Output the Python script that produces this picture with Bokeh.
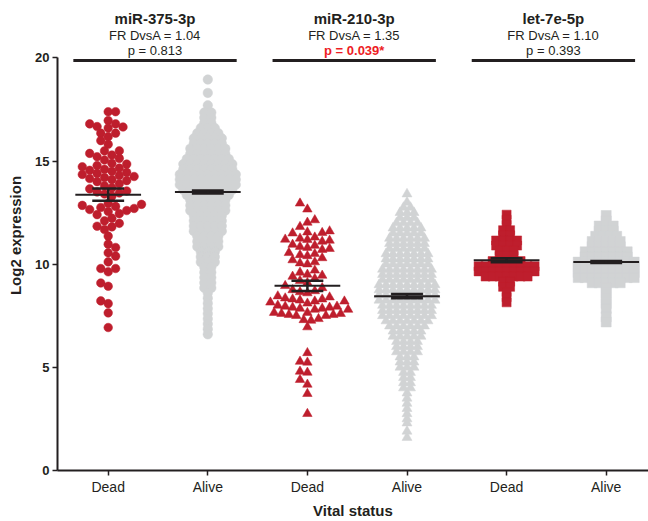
import numpy as np
from bokeh.plotting import figure
from bokeh.models import Range1d, FixedTicker
from bokeh.embed import file_html
from bokeh.resources import INLINE
from bokeh.core.properties import value

# ---------------- data ----------------
mirnas = ["miR-375-3p", "miR-210-3p", "let-7e-5p"]
fold_ratios = ["1.04", "1.35", "1.10"]
p_values = ["0.813", "0.039*", "0.393"]
status_labels = ["Dead", "Alive", "Dead", "Alive", "Dead", "Alive"]

dead_375 = [17.39, 17.39, 16.96, 16.8, 16.8, 16.67, 16.65, 16.6, 16.35, 16.35, 16.18, 15.99,
            15.81, 15.49, 15.49, 15.37, 15.29, 15.21, 15.13, 15.05, 14.89,
            14.85, 14.78, 14.72, 14.66, 14.6, 14.55, 14.5, 14.45, 14.4, 14.35, 14.3,
            14.25, 14.2, 14.15, 14.1, 14.05,
            14.0, 13.9, 13.8, 13.7, 13.65, 13.55, 13.5, 13.45, 13.4, 13.3,
            12.95, 12.9, 12.85, 12.8, 12.75, 12.7, 12.65, 12.6, 12.55, 12.45, 12.4,
            12.23, 12.1, 11.98, 11.84, 11.81, 11.68, 11.36, 10.97, 10.81, 10.55, 10.39, 10.11,
            9.79, 9.79, 9.63, 9.09, 8.93, 8.22, 8.09, 7.64, 6.93]

dead_210 = [12.95, 12.66, 12.14, 12.02, 11.81, 11.6, 11.55, 11.52, 11.5, 11.3, 11.25, 11.2,
            11.18, 11.15, 11.1, 10.95, 10.9, 10.85, 10.8, 10.75, 10.7, 10.55, 10.5, 10.45,
            10.4, 10.3, 10.2, 10.1, 10.05, 10.0,
            9.7, 9.6, 9.5, 9.45, 9.4, 9.3, 9.2, 9.1,
            8.95, 8.85, 8.75, 8.7, 8.65, 8.6,
            8.45, 8.4, 8.35, 8.3, 8.3, 8.25, 8.2, 8.2, 8.15, 8.1,
            8.0, 7.95, 7.95, 7.9, 7.9, 7.85, 7.85, 7.8, 7.8,
            7.65, 7.65, 7.6, 7.6, 7.55, 7.55, 7.5, 7.5,
            7.35, 7.3, 7.27, 6.95,
            5.7, 5.28, 5.24, 4.8, 4.75, 4.4, 4.17, 3.72, 2.75]

dead_let7e_levels = [12.4, 12.15, 11.9, 11.65, 11.4, 11.15, 10.9, 10.65, 10.4, 10.15,
                     9.9, 9.65, 9.4, 9.15, 8.9, 8.65, 8.4, 8.15]
dead_let7e_counts = [1, 1, 1, 2, 2, 4, 4, 3, 3, 5, 9, 9, 7, 2, 2, 1, 1, 1]

alive_375_levels = [18.95, 18.3, 17.7, 17.35, 17.1, 16.85, 16.6, 16.35, 16.1, 15.85, 15.6,
                    15.35, 15.1, 14.85, 14.6, 14.35, 14.1, 13.85, 13.6, 13.35, 13.1, 12.85,
                    12.6, 12.35, 12.1, 11.85, 11.6, 11.35, 11.1, 10.85, 10.6, 10.35, 10.1,
                    9.85, 9.6, 9.35, 9.1, 8.85, 8.6, 8.35, 8.1, 7.85, 7.6, 7.35, 7.1, 6.85, 6.6]
alive_375_counts = [1, 1, 1, 2, 2, 2, 3, 4, 5, 5, 6, 6, 7, 8, 8, 9, 9, 9, 8, 7, 6, 6, 6, 5,
                    5, 5, 5, 4, 4, 4, 3, 3, 3, 2, 2, 2, 2, 2, 1, 1, 1, 1, 1, 1, 1, 1, 1]

alive_210_levels = [13.4, 13.0, 12.75, 12.5, 12.25, 12.0, 11.75, 11.5, 11.25, 11.0, 10.75,
                    10.5, 10.25, 10.0, 9.75, 9.5, 9.25, 9.0, 8.75, 8.5, 8.25, 8.0, 7.75, 7.5,
                    7.25, 7.0, 6.75, 6.5, 6.25, 6.0, 5.75, 5.5, 5.25, 5.0, 4.75, 4.5, 4.25,
                    4.0, 3.75, 3.5, 3.25, 3.0, 2.75, 2.5, 2.3, 1.9, 1.6]
alive_210_counts = [1, 1, 2, 3, 3, 4, 5, 5, 6, 6, 6, 7, 7, 7, 8, 8, 8, 9, 9, 9, 9, 8, 8, 8,
                    7, 6, 5, 5, 4, 4, 4, 3, 3, 3, 2, 2, 2, 2, 1, 1, 1, 1, 1, 1, 1, 1, 1]

alive_let7e_levels = [12.36, 12.1, 11.85, 11.6, 11.35, 11.1, 10.85, 10.6, 10.35, 10.1, 9.85,
                      9.6, 9.35, 9.1, 8.85, 8.6, 8.35, 8.1, 7.85, 7.45, 7.2]
alive_let7e_counts = [1, 1, 3, 3, 4, 5, 5, 7, 7, 9, 9, 9, 9, 5, 1, 1, 1, 1, 1, 1, 1]

dead_means = [13.37, 8.95, 10.19]
dead_sems = [0.30, 0.245, 0.10]
alive_means = [13.50, 8.45, 10.11]
alive_sems = [0.07, 0.10, 0.05]

# ---------------- layout constants ----------------
W, H = 648, 521
LEFT, BOTTOM_PX = 57, 470
PX_X = 99.6
X0 = 1 - 50.7 / PX_X
X1 = X0 + (W - LEFT) / PX_X
Y1 = 22.78
PX_Y = BOTTOM_PX / Y1

RED = "#be1e2d"
GRAY = "#d1d3d4"
INK = "#231f20"
FONT = "Liberation Sans"


def swarm(vals, center, d_px, step_px):
    placed = []
    out = [0.0] * len(vals)
    order = sorted(range(len(vals)), key=lambda i: vals[i])
    for n, idx in enumerate(order):
        y = vals[idx] * PX_Y
        cands = [0.0]
        sgn = 1 if n % 2 == 0 else -1
        for j in range(1, 60):
            cands += [sgn * j * step_px, -sgn * j * step_px]
        chosen = cands[-1]
        for c in cands:
            if all((c - px) ** 2 + (y - py) ** 2 >= d_px ** 2 for px, py in placed):
                chosen = c
                break
        placed.append((chosen, y))
        out[idx] = center + chosen / PX_X
    return out


def rows(levels, counts, center, step_px):
    xs, ys = [], []
    for lv, n in zip(levels, counts):
        for k in range(n):
            xs.append(center + (k - (n - 1) / 2) * step_px / PX_X)
            ys.append(lv)
    return xs, ys


p = figure(width=W, height=H, x_range=Range1d(X0, X1), y_range=Range1d(0, Y1),
           output_backend="svg", toolbar_location=None,
           min_border_left=LEFT, min_border_right=0, min_border_top=0,
           min_border_bottom=H - BOTTOM_PX)
p.outline_line_color = None
p.grid.visible = False
p.background_fill_color = "white"
p.border_fill_color = "white"

# gray (Alive) groups
gx, gy = rows(alive_375_levels, alive_375_counts, 2, 7)
p.scatter(gx, gy, marker="circle", size=9.5, fill_color=GRAY, line_color=GRAY, line_width=0.5)
gx, gy = rows(alive_210_levels, alive_210_counts, 4, 7)
p.scatter(gx, gy, marker="triangle", size=10, fill_color=GRAY, line_color=GRAY, line_width=0.5)
gx, gy = rows(alive_let7e_levels, alive_let7e_counts, 6, 7)
p.scatter(gx, gy, marker="square", size=10, fill_color=GRAY, line_color=GRAY, line_width=0.5)

# red (Dead) groups
rx = swarm(dead_375, 1, 7.4, 3.7)
p.scatter(rx, dead_375, marker="circle", size=8.6, fill_color=RED, line_color=RED, line_width=0.5)
rx = swarm(dead_210, 3, 7.4, 3.7)
p.scatter(rx, dead_210, marker="triangle", size=9.5, fill_color=RED, line_color=RED, line_width=0.5)
rx, ry = rows(dead_let7e_levels, dead_let7e_counts, 5, 7)
p.scatter(rx, ry, marker="square", size=9, fill_color=RED, line_color=RED, line_width=0.5)

# mean +/- SEM
centers = [1, 3, 5, 2, 4, 6]
means = dead_means + alive_means
sems = dead_sems + alive_sems
cx = np.array(centers, dtype=float)
m = np.array(means)
s = np.array(sems)
p.segment(x0=cx - 0.33, x1=cx + 0.33, y0=m, y1=m, line_color=INK, line_width=2)
p.segment(x0=cx - 0.16, x1=cx + 0.16, y0=m + s, y1=m + s, line_color=INK, line_width=2.5)
p.segment(x0=cx - 0.16, x1=cx + 0.16, y0=m - s, y1=m - s, line_color=INK, line_width=2.5)
p.segment(x0=cx, x1=cx, y0=m - s, y1=m + s, line_color=INK, line_width=2.5)

# headers
tc = [1.47, 3.47, 5.47]
bar_y = (BOTTOM_PX - 60) / PX_Y
p.segment(x0=[c - 0.82 for c in tc], x1=[c + 0.82 for c in tc], y0=[bar_y] * 3, y1=[bar_y] * 3,
          line_color=INK, line_width=3)
y_t1 = (BOTTOM_PX - 17.5) / PX_Y
y_t2 = (BOTTOM_PX - 34.5) / PX_Y
y_t3 = (BOTTOM_PX - 50) / PX_Y
p.text(x=tc, y=[y_t1] * 3, text=mirnas, text_font=value(FONT), text_font_size="15px",
       text_font_style="bold", text_align="center", text_baseline="middle", text_color=INK)
p.text(x=tc, y=[y_t2] * 3, text=["FR DvsA = " + f for f in fold_ratios], text_font=value(FONT),
       text_font_size="13px", text_align="center", text_baseline="middle", text_color=INK)
p.text(x=[tc[0], tc[2]], y=[y_t3] * 2, text=["p = " + p_values[0], "p = " + p_values[2]],
       text_font=value(FONT), text_font_size="13px", text_align="center",
       text_baseline="middle", text_color=INK)
p.text(x=[tc[1]], y=[y_t3], text=["p = " + p_values[1]], text_font=value(FONT),
       text_font_size="13px", text_font_style="bold", text_align="center",
       text_baseline="middle", text_color="#ed1c24")

# axes
xa = p.xaxis[0]
xa.ticker = FixedTicker(ticks=[1, 2, 3, 4, 5, 6])
xa.major_label_overrides = {i + 1: lab for i, lab in enumerate(status_labels)}
xa.axis_label = "Vital status"
ya = p.yaxis[0]
ya.ticker = FixedTicker(ticks=[0, 5, 10, 15, 20])
ya.bounds = (0, 20)
ya.axis_label = "Log2 expression"
for ax in (xa, ya):
    ax.axis_line_color = INK
    ax.axis_line_width = 2
    ax.major_tick_line_color = INK
    ax.major_tick_line_width = 1.5
    ax.major_tick_out = 5
    ax.major_tick_in = 0
    ax.minor_tick_line_color = None
    ax.major_label_text_font = FONT
    ax.major_label_text_color = INK
    ax.axis_label_text_font = FONT
    ax.axis_label_text_font_style = "bold"
    ax.axis_label_text_font_size = "15px"
    ax.axis_label_text_color = INK
    ax.major_label_standoff = 3
xa.major_label_text_font_size = "14px"
ya.major_label_text_font_size = "13px"
ya.major_label_text_font_style = "bold"
xa.axis_label_standoff = 4
ya.axis_label_standoff = 8

open("out.html", "w").write(file_html(p, INLINE))
